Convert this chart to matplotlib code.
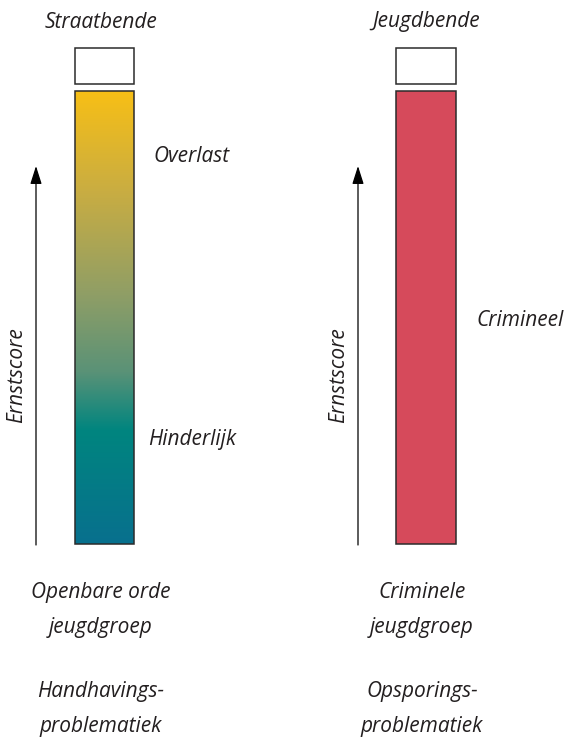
import matplotlib
matplotlib.use("Agg")
import matplotlib.pyplot as plt
from matplotlib.colors import LinearSegmentedColormap
from matplotlib.patches import Rectangle
import numpy as np

# ---- content ----
top_labels = ["Straatbende", "Jeugdbende"]
group_labels = ["Openbare orde\njeugdgroep", "Criminele\njeugdgroep"]
problem_labels = ["Handhavings-\nproblematiek", "Opsporings-\nproblematiek"]
axis_label = "Ernstscore"
left_levels = ["Overlast", "Hinderlijk"]
right_levels = ["Crimineel"]
gradient_colors = ["#F7BF16", "#C9AD42", "#8F9E66", "#5A9277", "#00857F", "#08708E"]
gradient_stops = [0.0, 0.22, 0.45, 0.62, 0.75, 1.0]
right_color = "#D64A5B"

plt.rcParams['font.family'] = ['Open Sans', 'DejaVu Sans']
W, H = 570, 742
fig = plt.figure(figsize=(W / 100, H / 100), dpi=100)
ax = fig.add_axes([0, 0, 1, 1])
ax.set_xlim(0, W)
ax.set_ylim(H, 0)
ax.axis('off')

fs = 15
tc = "#231F20"
edge = "#2B2B2B"

bars_x = [(75, 134), (396, 456)]
box_y = (48, 84)
bar_y = (91, 544)
arrow_x = [36, 358]

cmap = LinearSegmentedColormap.from_list("g", list(zip(gradient_stops, gradient_colors)))
grad = np.linspace(0, 1, 256).reshape(-1, 1)

for i, (x0, x1) in enumerate(bars_x):
    ax.add_patch(Rectangle((x0, box_y[0]), x1 - x0, box_y[1] - box_y[0],
                           facecolor="white", edgecolor=edge, lw=1.1, zorder=3))
    if i == 0:
        ax.imshow(grad, cmap=cmap, extent=(x0, x1, bar_y[1], bar_y[0]),
                  aspect='auto', zorder=2, interpolation='bilinear')
        ax.add_patch(Rectangle((x0, bar_y[0]), x1 - x0, bar_y[1] - bar_y[0],
                               facecolor="none", edgecolor=edge, lw=1.1, zorder=3))
    else:
        ax.add_patch(Rectangle((x0, bar_y[0]), x1 - x0, bar_y[1] - bar_y[0],
                               facecolor=right_color, edgecolor=edge, lw=1.1, zorder=3))
    cx = (x0 + x1) / 2
    ax.text(cx - 4 if i == 0 else cx, 22, top_labels[i], ha='center', va='center',
            fontsize=fs, style='italic', color=tc)
    ax.text(cx - 4, 610, group_labels[i], ha='center', va='center',
            fontsize=fs, style='italic', color=tc, linespacing=1.9)
    ax.text(cx - 4, 709, problem_labels[i], ha='center', va='center',
            fontsize=fs, style='italic', color=tc, linespacing=1.9)

    ax_x = arrow_x[i]
    ax.annotate("", xy=(ax_x, 166), xytext=(ax_x, 545),
                arrowprops=dict(arrowstyle="-|>,head_length=1.1,head_width=0.35",
                                color="black", lw=0.9, shrinkA=0, shrinkB=0))
    ax.text(ax_x - 19, 375, axis_label, ha='center', va='center', rotation=90,
            fontsize=fs, style='italic', color=tc)

ax.text(153, 157, left_levels[0], ha='left', va='center', fontsize=fs, style='italic', color=tc)
ax.text(148, 439, left_levels[1], ha='left', va='center', fontsize=fs, style='italic', color=tc)
ax.text(476, 320, right_levels[0], ha='left', va='center', fontsize=fs, style='italic', color=tc)

fig.savefig("out.png", dpi=100)
